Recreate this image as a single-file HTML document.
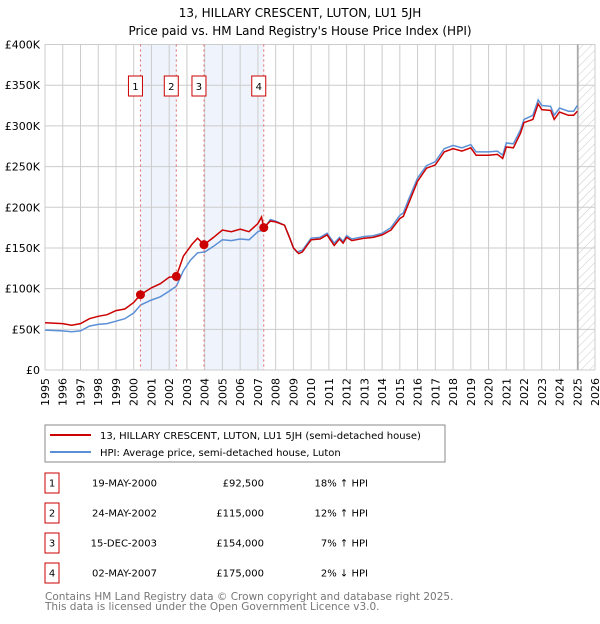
<!DOCTYPE html>
<html><head><meta charset="utf-8"><style>
body{margin:0;background:#fff;font-family:"DejaVu Sans","Liberation Sans",sans-serif;}
svg text{font-family:"DejaVu Sans","Liberation Sans",sans-serif;}
</style></head><body>
<svg id="chart" width="600" height="620" viewBox="0 0 600 620">
<defs><pattern id="hatch" width="6" height="6" patternUnits="userSpaceOnUse" patternTransform="rotate(45)"><line x1="0" y1="0" x2="0" y2="6" stroke="#bbb" stroke-width="0.8"/></pattern></defs>
<text x="300" y="17" text-anchor="middle" font-size="12">13, HILLARY CRESCENT, LUTON, LU1 5JH</text>
<text x="300" y="35" text-anchor="middle" font-size="12">Price paid vs. HM Land Registry's House Price Index (HPI)</text>
<g id="bands"></g><g id="grid"></g><g id="series"></g><g id="marks"></g><g id="axes"></g>
<rect x="45" y="425" width="400" height="37" fill="#fff" stroke="#888"/>
<line x1="50" y1="435" x2="91" y2="435" stroke="#cc0000" stroke-width="2"/>
<text x="100" y="439" font-size="10">13, HILLARY CRESCENT, LUTON, LU1 5JH (semi-detached house)</text>
<line x1="50" y1="452" x2="91" y2="452" stroke="#5b8fd6" stroke-width="2"/>
<text x="100" y="456" font-size="10">HPI: Average price, semi-detached house, Luton</text>
<g id="table" font-size="10"></g>
<text x="45" y="600" font-size="10.5" fill="#777">Contains HM Land Registry data © Crown copyright and database right 2025.</text>
<text x="45" y="610" font-size="10.5" fill="#777">This data is licensed under the Open Government Licence v3.0.</text>
</svg>
<script>
const yTicks=[0,50,100,150,200,250,300,350,400];
const hpiT=[1995,1996,1996.5,1997,1997.5,1998,1998.5,1999,1999.5,2000,2000.4,2001,2001.5,2002,2002.4,2002.8,2003.2,2003.6,2004,2004.5,2005,2005.5,2006,2006.5,2007,2007.3,2007.7,2008,2008.5,2008.8,2009,2009.2,2009.5,2010,2010.5,2010.9,2011.3,2011.6,2011.8,2012,2012.3,2013,2013.5,2014,2014.5,2015,2015.2,2015.5,2016,2016.5,2017,2017.5,2018,2018.5,2019,2019.3,2020,2020.5,2020.8,2021,2021.4,2021.8,2022,2022.5,2022.8,2023,2023.5,2023.7,2024,2024.5,2024.8,2025];
const hpiV=[49,48,47,48,54,56,57,60,63,70,80,86,90,97,103,122,135,144,145,152,160,159,161,160,170,172,185,183,178,162,150,145,147,162,163,168,156,163,158,165,161,164,165,168,175,190,193,210,236,251,256,272,276,273,277,268,268,269,264,279,278,295,308,313,332,325,324,313,322,318,318,325];
const redT=[1995,1996,1996.5,1997,1997.5,1998,1998.5,1999,1999.5,2000,2000.38,2001,2001.5,2002,2002.4,2002.8,2003.3,2003.6,2003.96,2004.5,2005,2005.5,2006,2006.5,2007,2007.2,2007.33,2007.7,2008,2008.5,2008.8,2009,2009.3,2009.5,2010,2010.5,2010.9,2011.3,2011.6,2011.8,2012,2012.3,2013,2013.5,2014,2014.5,2015,2015.2,2015.5,2016,2016.5,2017,2017.5,2018,2018.5,2019,2019.3,2020,2020.5,2020.8,2021,2021.4,2021.8,2022,2022.5,2022.8,2023,2023.5,2023.7,2024,2024.5,2024.8,2025];
const redV=[58,57,55,57,63,66,68,73,75,83,92.5,101,106,114,115,140,155,162,154,163,172,170,173,170,180,188,175,183,182,178,162,150,143,145,160,161,166,153,161,156,163,159,162,163,166,172,186,189,205,232,248,252,268,272,269,273,264,264,265,260,274,273,291,304,308,327,320,319,308,317,313,313,318];
const saleT=[2000.38,2002.4,2003.96,2007.33];
const saleV=[92.5,115,154,175];
const saleDates=["19-MAY-2000","24-MAY-2002","15-DEC-2003","02-MAY-2007"];
const salePrices=["£92,500","£115,000","£154,000","£175,000"];
const saleHpi=["18% ↑ HPI","12% ↑ HPI","7% ↑ HPI","2% ↓ HPI"];
const bandsT=[[2000.38,2002.4],[2003.96,2007.33]];
const NS="http://www.w3.org/2000/svg";
const X=t=>45+(t-1995)*550/31, Y=v=>370-v*325.5/400;
function mk(p,tag,a){const e=document.createElementNS(NS,tag);for(const k in a)e.setAttribute(k,a[k]);document.getElementById(p).appendChild(e);return e;}
bandsT.forEach(b=>{const r=mk('bands','rect',{x:X(b[0]),y:Y(400),width:X(b[1])-X(b[0]),height:Y(0)-Y(400),fill:'#eef3fc'});

});
const h=mk('bands','rect',{x:X(2025.04),y:Y(400),width:X(2026)-X(2025.04),height:Y(0)-Y(400),fill:'url(#hatch)'});


for(let yr=1995;yr<=2026;yr++){const l=mk('grid','line',{x1:X(yr),x2:X(yr),y1:Y(400),y2:Y(0),stroke:'#ccc','stroke-width':1});


const t=mk('axes','text',{x:0,y:0,'font-size':11,'text-anchor':'end',transform:`translate(${X(yr)+4},${Y(0)+8}) rotate(-90)`});t.textContent=yr;

}
yTicks.forEach(v=>{const l=mk('grid','line',{x1:X(1995),x2:X(2026),y1:Y(v),y2:Y(v),stroke:'#ccc','stroke-width':1});


const t=mk('axes','text',{x:40,y:Y(v)+4,'font-size':11,'text-anchor':'end'});t.textContent=v?'£'+v+'K':'£0';

});
const vl=mk('grid','line',{x1:X(2025.04),x2:X(2025.04),y1:Y(400),y2:Y(0),stroke:'#888','stroke-width':1});


const pts=(T,V)=>T.map((t,i)=>X(t).toFixed(1)+','+Y(V[i]).toFixed(1)).join(' ');
const hl=mk('series','polyline',{points:pts(hpiT,hpiV),fill:'none',stroke:'#5b8fd6','stroke-width':1.5});


const rl=mk('series','polyline',{points:pts(redT,redV),fill:'none',stroke:'#cc0000','stroke-width':1.5});


saleT.forEach((t,i)=>{
const d=mk('marks','line',{x1:X(t),x2:X(t),y1:Y(400),y2:Y(0),stroke:'#e06666','stroke-width':1,'stroke-dasharray':'2,3'});


const c=mk('marks','circle',{cx:X(t),cy:Y(saleV[i]),r:4.5,fill:'#cc0000'});


const bx=X(t)-(i==0||i==3?11:11)-(i==0?-7:0);
const b=mk('marks','rect',{x:X(t)-12,y:76,width:14,height:20,fill:'#fff',stroke:'#cc0000'});


const tt=mk('marks','text',{x:X(t)-5,y:90,'font-size':10,'text-anchor':'middle'});tt.textContent=i+1;


const yy=483+i*30;
const rb=mk('table','rect',{x:45,y:yy-10,width:14,height:20,fill:'#fff',stroke:'#cc0000'});


const n=mk('table','text',{x:52,y:yy+3.5,'text-anchor':'middle'});n.textContent=i+1;


const a=mk('table','text',{x:157,y:yy+3.5,'text-anchor':'end'});a.textContent=saleDates[i];


const p=mk('table','text',{x:264,y:yy+3.5,'text-anchor':'end'});p.textContent=salePrices[i];


const q=mk('table','text',{x:368,y:yy+3.5,'text-anchor':'end'});q.textContent=saleHpi[i];

});
</script>
</body></html>
